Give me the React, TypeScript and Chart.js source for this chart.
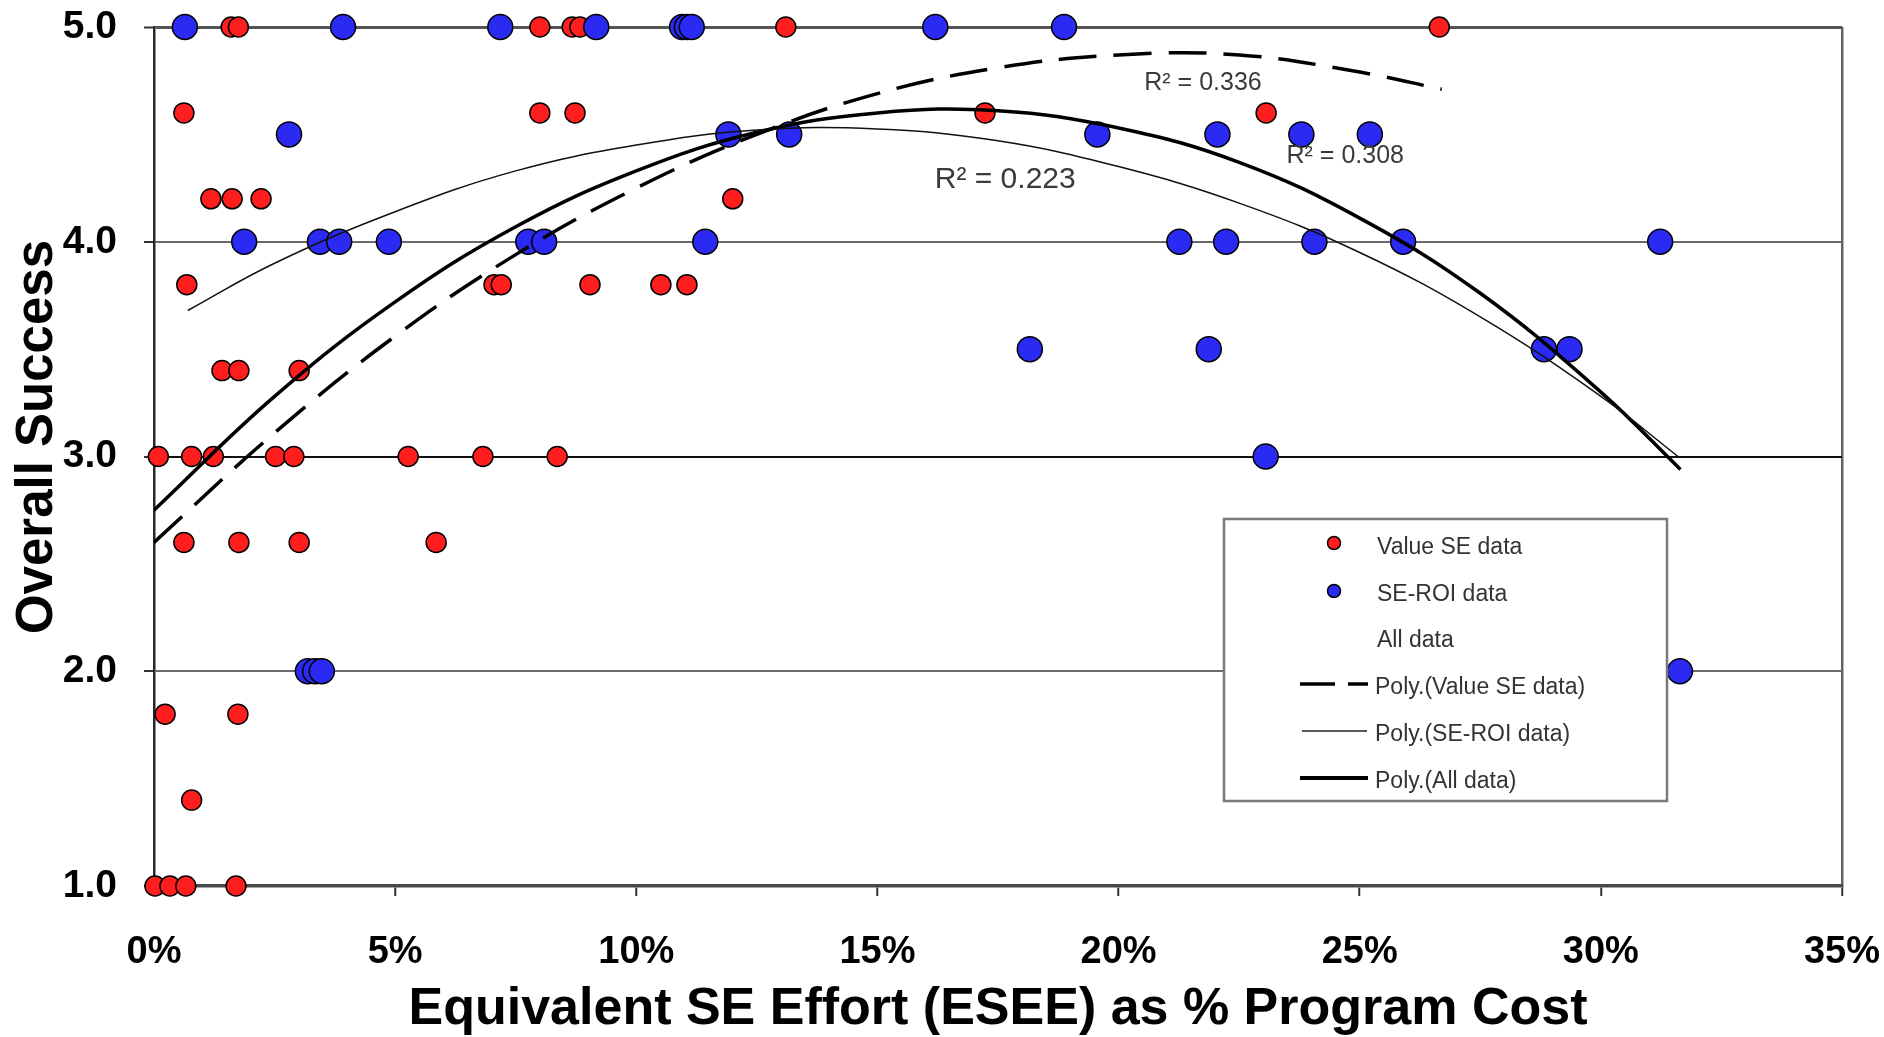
import React, { useEffect, useRef } from 'react';
import { Chart, registerables } from 'chart.js';

Chart.register(...registerables);

// ---- Data (x = ESEE as % of program cost, y = overall success) ----
const valueSeX = [
  1.6, 1.75, 8.0, 8.67, 8.83, 13.1, 26.65,
  0.62, 8.0, 8.73, 17.23, 23.06,
  1.18, 1.62, 2.22, 12.0,
  0.68, 7.05, 7.2, 9.04, 10.51, 11.05,
  1.41, 1.76, 3.01,
  0.09, 0.78, 1.23, 2.52, 2.9, 5.27, 6.82, 8.36,
  0.62, 1.76, 3.01, 5.85,
  0.23, 1.74,
  0.78,
  0.02, 0.33, 0.66, 1.7,
];
const valueSeY = [
  5.0, 5.0, 5.0, 5.0, 5.0, 5.0, 5.0,
  4.6, 4.6, 4.6, 4.6, 4.6,
  4.2, 4.2, 4.2, 4.2,
  3.8, 3.8, 3.8, 3.8, 3.8, 3.8,
  3.4, 3.4, 3.4,
  3.0, 3.0, 3.0, 3.0, 3.0, 3.0, 3.0, 3.0,
  2.6, 2.6, 2.6, 2.6,
  1.8, 1.8,
  1.4,
  1.0, 1.0, 1.0, 1.0,
];

const seRoiX = [
  0.64, 3.92, 7.18, 9.17, 10.95, 11.05, 11.15, 16.2, 18.87,
  2.8, 11.91, 13.17, 19.56, 22.05, 23.79, 25.21,
  1.87, 3.44, 3.84, 4.87, 7.76, 8.09, 11.43, 21.26, 22.23, 24.06, 25.9, 31.23,
  18.16, 21.87, 28.82, 29.35,
  23.05,
  3.19, 3.34, 3.48, 31.64,
];
const seRoiY = [
  5.0, 5.0, 5.0, 5.0, 5.0, 5.0, 5.0, 5.0, 5.0,
  4.5, 4.5, 4.5, 4.5, 4.5, 4.5, 4.5,
  4.0, 4.0, 4.0, 4.0, 4.0, 4.0, 4.0, 4.0, 4.0, 4.0, 4.0, 4.0,
  3.5, 3.5, 3.5, 3.5,
  3.0,
  2.0, 2.0, 2.0, 2.0,
];

// Trend curves
const polyValueX = [0, 2.5, 5, 7.5, 10, 12.5, 15, 17.5, 20, 22.5, 25, 26.7];
const polyValueY = [2.6, 3.11, 3.56, 3.94, 4.25, 4.5, 4.69, 4.81, 4.87, 4.87, 4.79, 4.71];

const polyRoiX = [0.7, 2.5, 5, 7.5, 10, 12.5, 15, 17.5, 20, 22.5, 25, 27.5, 30, 31.6];
const polyRoiY = [3.68, 3.9, 4.14, 4.33, 4.45, 4.52, 4.525, 4.47, 4.35, 4.18, 3.95, 3.65, 3.28, 3.0];

const polyAllX = [0, 2.5, 5, 7.5, 10, 12.5, 15, 17.5, 20, 22.5, 25, 27.5, 30, 31.65];
const polyAllY = [2.75, 3.28, 3.72, 4.07, 4.33, 4.51, 4.6, 4.61, 4.53, 4.37, 4.11, 3.76, 3.3, 2.94];

const xTickLabels = ['0%', '5%', '10%', '15%', '20%', '25%', '30%', '35%'];
const yTickLabels = ['1.0', '2.0', '3.0', '4.0', '5.0'];

const xAxisTitle = 'Equivalent SE Effort (ESEE) as % Program Cost';
const yAxisTitle = 'Overall Success';

const r2Labels = ['R² = 0.336', 'R² = 0.223', 'R² = 0.308'];
const r2AnchorX = [21.75, 17.65, 24.7];
const r2AnchorY = [4.74, 4.29, 4.4];
const r2FontSize = [25, 30, 25];

const legendLabels = [
  'Value SE data',
  'SE-ROI data',
  'All data',
  'Poly.(Value SE data)',
  'Poly.(SE-ROI data)',
  'Poly.(All data)',
];

const RED = '#FF1E1E';
const BLUE = '#2A2AF2';
const SANS = "'Liberation Sans', Arial, Helvetica, sans-serif";

const zip = (xs: number[], ys: number[]) => xs.map((x, i) => ({ x, y: ys[i] }));

const overlayPlugin = {
  id: 'overlay',
  afterDraw(chart: any) {
    const { ctx } = chart;
    ctx.save();
    // Y axis title
    ctx.translate(38, 437);
    ctx.rotate(-Math.PI / 2);
    ctx.font = `bold 51px ${SANS}`;
    ctx.fillStyle = '#000';
    ctx.textAlign = 'center';
    ctx.textBaseline = 'middle';
    ctx.fillText(yAxisTitle, 0, 0);
    ctx.restore();
  },
  afterDatasetsDraw(chart: any) {
    const { ctx, scales } = chart;
    const xs = scales.x;
    const ys = scales.y;
    ctx.save();
    // R² labels
    ctx.fillStyle = '#3a3a3a';
    ctx.textAlign = 'center';
    ctx.textBaseline = 'middle';
    r2Labels.forEach((t, i) => {
      ctx.font = `${r2FontSize[i]}px ${SANS}`;
      ctx.fillText(t, xs.getPixelForValue(r2AnchorX[i]), ys.getPixelForValue(r2AnchorY[i]));
    });

    // Legend box
    const bx = 1224, by = 519, bw = 443, bh = 282;
    ctx.fillStyle = '#ffffff';
    ctx.fillRect(bx, by, bw, bh);
    ctx.strokeStyle = '#7a7a7a';
    ctx.lineWidth = 2.5;
    ctx.strokeRect(bx, by, bw, bh);

    const rowY = [548, 595, 641, 688, 735, 782];
    ctx.font = `23px ${SANS}`;
    ctx.fillStyle = '#333333';
    ctx.textAlign = 'left';
    ctx.textBaseline = 'middle';
    legendLabels.forEach((t, i) => {
      ctx.fillText(t, i < 3 ? 1377 : 1375, rowY[i]);
    });
    const dot = (y: number, c: string) => {
      ctx.beginPath();
      ctx.arc(1334, y, 6.5, 0, Math.PI * 2);
      ctx.fillStyle = c;
      ctx.fill();
      ctx.lineWidth = 1.5;
      ctx.strokeStyle = '#000';
      ctx.stroke();
    };
    dot(rowY[0] - 5, RED);
    dot(rowY[1] - 4, BLUE);
    ctx.strokeStyle = '#000';
    ctx.lineCap = 'butt';
    ctx.lineWidth = 3.5;
    ctx.setLineDash([35, 13]);
    ctx.beginPath();
    ctx.moveTo(1300, rowY[3] - 4);
    ctx.lineTo(1368, rowY[3] - 4);
    ctx.stroke();
    ctx.setLineDash([]);
    ctx.lineWidth = 1.5;
    ctx.strokeStyle = '#222';
    ctx.beginPath();
    ctx.moveTo(1302, rowY[4] - 4);
    ctx.lineTo(1367, rowY[4] - 4);
    ctx.stroke();
    ctx.lineWidth = 4;
    ctx.strokeStyle = '#000';
    ctx.beginPath();
    ctx.moveTo(1300, rowY[5] - 4);
    ctx.lineTo(1368, rowY[5] - 4);
    ctx.stroke();
    ctx.restore();
  },
};

export default function App() {
  const canvasRef = useRef<HTMLCanvasElement | null>(null);

  useEffect(() => {
    const canvas = canvasRef.current;
    if (!canvas) return;
    const chart = new Chart(canvas, {
      type: 'scatter',
      data: {
        datasets: [
          {
            type: 'line',
            label: 'Poly.(Value SE data)',
            data: zip(polyValueX, polyValueY),
            borderColor: '#000',
            borderWidth: 3.5,
            borderDash: [38, 17],
            pointRadius: 0,
            tension: 0.4,
            fill: false,
            order: 0,
          } as any,
          {
            type: 'line',
            label: 'Poly.(SE-ROI data)',
            data: zip(polyRoiX, polyRoiY),
            borderColor: '#111',
            borderWidth: 1.5,
            pointRadius: 0,
            tension: 0.4,
            fill: false,
            order: 0,
          } as any,
          {
            type: 'line',
            label: 'Poly.(All data)',
            data: zip(polyAllX, polyAllY),
            borderColor: '#000',
            borderWidth: 3.5,
            pointRadius: 0,
            tension: 0.4,
            fill: false,
            order: 0,
          } as any,
          {
            label: 'SE-ROI data',
            data: zip(seRoiX, seRoiY),
            backgroundColor: BLUE,
            borderColor: '#000',
            borderWidth: 1.5,
            pointRadius: 12.5,
            clip: false,
            order: 1,
          } as any,
          {
            label: 'Value SE data',
            data: zip(valueSeX, valueSeY),
            backgroundColor: RED,
            borderColor: '#000',
            borderWidth: 1.5,
            pointRadius: 10,
            clip: false,
            order: 2,
          } as any,
        ],
      },
      options: {
        responsive: false,
        animation: false,
        devicePixelRatio: 1,
        layout: { padding: { top: 27, right: 42, left: 0, bottom: 0 } },
        plugins: {
          legend: { display: false },
          tooltip: { enabled: false },
        },
        scales: {
          x: {
            type: 'linear',
            min: 0,
            max: 35,
            afterFit: (s: any) => {
              s.height = 151;
              s.paddingLeft = 0;
              s.paddingRight = 0;
            },
            ticks: {
              stepSize: 5,
              padding: 34,
              color: '#000',
              font: { family: SANS, size: 38, weight: 'bold' },
              callback: (v: any) => xTickLabels[Math.round(Number(v) / 5)] ?? '',
            },
            grid: {
              drawOnChartArea: true,
              color: (c: any) => (c.tick && c.tick.value === 35 ? '#666' : 'rgba(0,0,0,0)'),
              lineWidth: 2.5,
              tickColor: '#333',
              tickLength: 10,
              tickWidth: 2,
            },
            border: { display: true, color: '#4a4a4a', width: 3.5 },
            title: {
              display: true,
              text: xAxisTitle,
              color: '#000',
              font: { family: SANS, size: 52, weight: 'bold', lineHeight: 1 },
              padding: { top: 0, bottom: 1 },
            },
          },
          y: {
            type: 'linear',
            min: 1,
            max: 5,
            afterFit: (s: any) => {
              s.width = 154;
              s.paddingTop = 0;
              s.paddingBottom = 0;
            },
            ticks: {
              stepSize: 1,
              padding: 27,
              color: '#000',
              font: { family: SANS, size: 39, weight: 'bold' },
              callback: (v: any) => yTickLabels[Math.round(Number(v) - 1)] ?? '',
            },
            grid: {
              drawOnChartArea: true,
              color: (c: any) => {
                const v = c.tick ? c.tick.value : 0;
                if (v === 5) return '#555';
                if (v === 3) return '#111';
                if (v === 1) return 'rgba(0,0,0,0)';
                return '#6a6a6a';
              },
              lineWidth: (c: any) => {
                const v = c.tick ? c.tick.value : 0;
                if (v === 5) return 3;
                return 2;
              },
              tickColor: '#333',
              tickLength: 10,
              tickWidth: 2,
            },
            border: { display: true, color: '#2a2a2a', width: 2.5 },
            title: { display: false, text: yAxisTitle },
          },
        },
      } as any,
      plugins: [overlayPlugin],
    });
    return () => chart.destroy();
  }, []);

  return (
    <div style={{ position: 'absolute', left: 0, top: 0, width: 1884, height: 1037, background: '#fff' }}>
      <canvas ref={canvasRef} width={1884} height={1037} style={{ display: 'block', width: 1884, height: 1037 }} />
    </div>
  );
}
